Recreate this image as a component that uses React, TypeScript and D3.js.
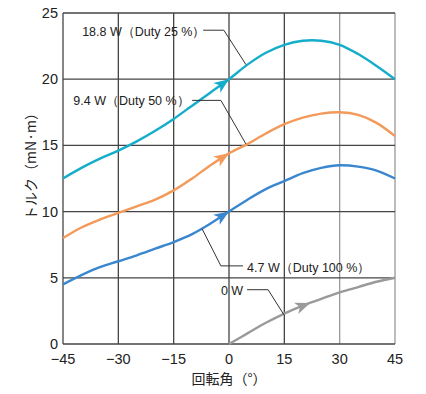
import * as d3 from "d3"

// chart values
const angles = [-45, -40, -35, -30, -25, -20, -15, -10, -5, 0, 5, 10, 15, 20, 25, 30, 35, 40, 45]
const torque188 = [12.5, 13.3, 14.0, 14.6, 15.3, 16.1, 17.0, 18.0, 19.0, 20.0, 21.1, 22.0, 22.6, 22.9, 22.9, 22.6, 21.9, 21.0, 20.0]
const torque94 = [8.0, 8.8, 9.4, 9.9, 10.4, 10.9, 11.6, 12.5, 13.5, 14.4, 15.1, 15.9, 16.6, 17.1, 17.4, 17.5, 17.3, 16.7, 15.7]
const torque47 = [4.5, 5.2, 5.8, 6.25, 6.7, 7.2, 7.7, 8.3, 9.1, 10.0, 10.9, 11.7, 12.3, 12.9, 13.3, 13.5, 13.4, 13.1, 12.5]
const anglesZero = [0, 5, 10, 15, 20, 25, 30, 35, 40, 45]
const torque0 = [0, 0.8, 1.6, 2.3, 2.9, 3.4, 3.9, 4.3, 4.7, 5.0]

const xTicks = [-45, -30, -15, 0, 15, 30, 45]
const yTicks = [0, 5, 10, 15, 20, 25]

const width = 426
const height = 394
const margin = { top: 13, right: 31, bottom: 50, left: 63 }

const jp = "'Noto Sans CJK JP', sans-serif"
const num = "'Liberation Sans', Arial, sans-serif"

export default function App() {
  const x = d3.scaleLinear().domain([-45, 45]).range([margin.left, width - margin.right])
  const y = d3.scaleLinear().domain([0, 25]).range([height - margin.bottom, margin.top])

  const line = d3
    .line<[number, number]>()
    .x((d) => x(d[0]))
    .y((d) => y(d[1]))
    .curve(d3.curveCatmullRom.alpha(0.5))

  const series = [
    { xs: angles, ys: torque188, color: "#14adca", arrowAt: 0, label: "18.8 W（Duty 25 %）" },
    { xs: angles, ys: torque94, color: "#f39a5a", arrowAt: 0, label: "9.4 W（Duty 50 %）" },
    { xs: angles, ys: torque47, color: "#3a87cf", arrowAt: 0, label: "4.7 W（Duty 100 %）" },
    { xs: anglesZero, ys: torque0, color: "#9a9a9a", arrowAt: 22, label: "0 W" },
  ]

  // value on a series by linear lookup between read points
  const valueAt = (xs: number[], ys: number[], a: number) => d3.scaleLinear().domain(xs).range(ys)(a)

  const arrow = (s: (typeof series)[number], i: number) => {
    const tx = x(s.arrowAt)
    const ty = y(valueAt(s.xs, s.ys, s.arrowAt))
    const bx = x(s.arrowAt - 3)
    const by = y(valueAt(s.xs, s.ys, s.arrowAt - 3))
    const ang = (Math.atan2(ty - by, tx - bx) * 180) / Math.PI
    return (
      <path
        key={"a" + i}
        d="M0,0 L-15,-6 L-11,0 L-15,6 Z"
        fill={s.color}
        transform={`translate(${tx},${ty}) rotate(${ang})`}
      />
    )
  }

  // label positions and leader lines (in data units)
  const labels = [
    { s: series[0], tx: -39.8, ty: 23.6, path: [[-7, 23.7], [-1.4, 23.7], [4.6, 21.1]] },
    { s: series[1], tx: -42.2, ty: 18.4, path: [[-10, 18.4], [-2.2, 18.4], [4.6, 15.1]] },
    { s: series[2], tx: 4.9, ty: 5.8, path: [[3.8, 5.9], [-2.2, 5.9], [-7.3, 8.7]] },
    { s: series[3], tx: -2.2, ty: 4.0, path: [[4.9, 4.1], [10.6, 4.1], [14.9, 2.2]] },
  ]

  return (
    <svg width={width} height={height} style={{ position: "absolute", left: 0, top: 0, background: "#fff" }}>
      {/* grid */}
      {xTicks.map((t) => (
        <line
          key={"gx" + t}
          x1={x(t)}
          x2={x(t)}
          y1={y(0)}
          y2={y(25)}
          stroke={t >= 30 ? "#999" : "#444"}
          strokeWidth={1.3}
        />
      ))}
      {yTicks.map((t) => (
        <line key={"gy" + t} x1={x(-45)} x2={x(45)} y1={y(t)} y2={y(t)} stroke="#444" strokeWidth={1.3} />
      ))}

      {/* curves */}
      {series.map((s, i) => (
        <path
          key={"s" + i}
          d={line(s.xs.map((a, j) => [a, s.ys[j]] as [number, number])) || ""}
          fill="none"
          stroke={s.color}
          strokeWidth={2.4}
        />
      ))}
      {series.map(arrow)}

      {/* leader lines and labels */}
      {labels.map((l, i) => (
        <g key={"l" + i}>
          <polyline
            points={l.path.map((p) => `${x(p[0])},${y(p[1])}`).join(" ")}
            fill="none"
            stroke="#333"
            strokeWidth={1}
          />
          <text x={x(l.tx)} y={y(l.ty)} dy="0.35em" fontFamily={num} fontSize={12.5} fill="#222">
            {l.s.label}
          </text>
        </g>
      ))}

      {/* axes */}
      {yTicks.map((t) => (
        <text key={"ty" + t} x={58} y={y(t)} dy="0.35em" textAnchor="end" fontFamily={num} fontSize={14.5} fill="#222">
          {t}
        </text>
      ))}
      {xTicks.map((t) => (
        <text key={"tx" + t} x={x(t)} y={359} dy="0.35em" textAnchor="middle" fontFamily={num} fontSize={14.5} fill="#222">
          {t < 0 ? "−" + Math.abs(t) : t}
        </text>
      ))}
      <text x={229} y={379} dy="0.35em" textAnchor="middle" fontFamily={jp} fontSize={14} fill="#222">
        回転角（°）
      </text>
      <text
        transform={`translate(31,163) rotate(-90)`}
        dy="0.35em"
        textAnchor="middle"
        fontFamily={jp}
        fontSize={14}
        fill="#222"
      >
        トルク（mN·m）
      </text>
    </svg>
  )
}
